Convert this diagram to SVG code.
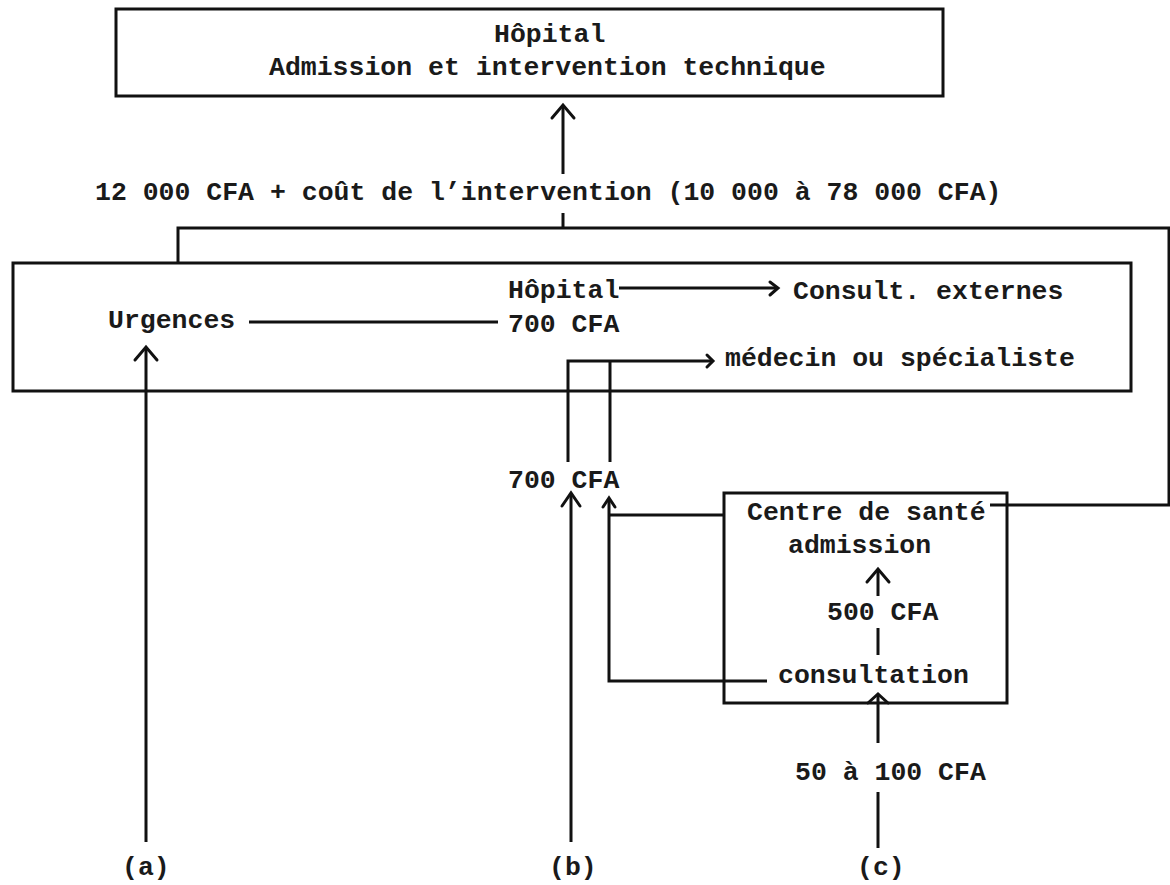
<svg xmlns="http://www.w3.org/2000/svg" width="1170" height="885" viewBox="0 0 1170 885">
  <style>
    .box { fill: none; stroke: #111; stroke-width: 3; }
    .ln { fill: none; stroke: #111; stroke-width: 3; stroke-linecap: butt; stroke-linejoin: miter; }
    .hd { fill: none; stroke: #111; stroke-width: 3; stroke-linecap: round; stroke-linejoin: miter; }
    text { font-family: "Liberation Mono", "Courier New", monospace; font-size: 26.5px; font-weight: bold; fill: #1a1a1a; }
  </style>
  <rect width="1170" height="885" fill="#fff"/>

  <!-- Hospital: admission and technical intervention -->
  <g id="hopital-intervention">
    <rect class="box" x="116" y="9" width="827" height="87"/>
    <text x="494" y="42">Hôpital</text>
    <text x="269" y="75">Admission et intervention technique</text>
  </g>

  <!-- Hospital: emergencies / outpatient consultations -->
  <g id="hopital-urgences">
    <rect class="box" x="13" y="263" width="1118" height="128"/>
    <text x="508" y="298">Hôpital</text>
    <text x="793" y="299">Consult. externes</text>
    <text x="108" y="328">Urgences</text>
    <text x="508" y="332">700 CFA</text>
    <text x="725" y="366">médecin ou spécialiste</text>
  </g>

  <!-- Health centre -->
  <g id="centre-sante">
    <rect class="box" x="724" y="493" width="283" height="210"/>
    <text x="747" y="520">Centre de santé</text>
    <text x="788" y="553">admission</text>
    <text x="827" y="620">500 CFA</text>
    <text x="778" y="683">consultation</text>
  </g>

  <!-- Cost labels and entry points -->
  <g id="labels">
    <text x="95" y="200">12 000 CFA + coût de l’intervention (10 000 à 78 000 CFA)</text>
    <text x="508" y="488">700 CFA</text>
    <text x="795" y="780">50 à 100 CFA</text>
    <text x="122" y="875">(a)</text>
    <text x="549" y="875">(b)</text>
    <text x="857" y="875">(c)</text>
  </g>

  <!-- Connectors -->
  <g id="connectors">
    <!-- to admission and intervention -->
    <line class="ln" x1="563" y1="174" x2="563" y2="106"/>
    <polyline class="hd" points="552,118 563,105 574,118"/>
    <!-- collecting line above the emergencies box, fed from the health centre -->
    <polyline class="ln" points="178,263 178,228 1169,228 1169,505 990,505"/>
    <line class="ln" x1="563" y1="213" x2="563" y2="228"/>

    <!-- Urgences — 700 CFA -->
    <line class="ln" x1="249" y1="322" x2="498" y2="322"/>
    <!-- Hôpital → Consult. externes -->
    <line class="ln" x1="619" y1="288" x2="776" y2="288"/>
    <polyline class="hd" points="770,282 778,288 770,295"/>
    <!-- 700 CFA → médecin ou spécialiste -->
    <polyline class="ln" points="568,462 568,361 711,361"/>
    <line class="ln" x1="610" y1="361" x2="610" y2="462"/>
    <polyline class="hd" points="707,355 713,361 707,367"/>

    <!-- (a) to emergencies -->
    <line class="ln" x1="146" y1="842" x2="146" y2="348"/>
    <polyline class="hd" points="135,360 146,347 157,360"/>

    <!-- (b) to hospital consultation -->
    <line class="ln" x1="571" y1="842" x2="571" y2="494"/>
    <polyline class="hd" points="562,506 571,493 580,506"/>

    <!-- health centre referrals to hospital consultation -->
    <polyline class="ln" points="767,681 609,681 609,499"/>
    <line class="ln" x1="609" y1="515" x2="724" y2="515"/>
    <polyline class="hd" points="603,507 609,498 615,507"/>

    <!-- consultation to admission -->
    <line class="ln" x1="878" y1="655" x2="878" y2="628"/>
    <line class="ln" x1="878" y1="596" x2="878" y2="570"/>
    <polyline class="hd" points="867,582 878,569 889,582"/>

    <!-- (c) to consultation -->
    <line class="ln" x1="878" y1="848" x2="878" y2="792"/>
    <line class="ln" x1="878" y1="743" x2="878" y2="696"/>
    <polyline class="hd" points="868,703 878,694 888,703"/>
  </g>
</svg>
